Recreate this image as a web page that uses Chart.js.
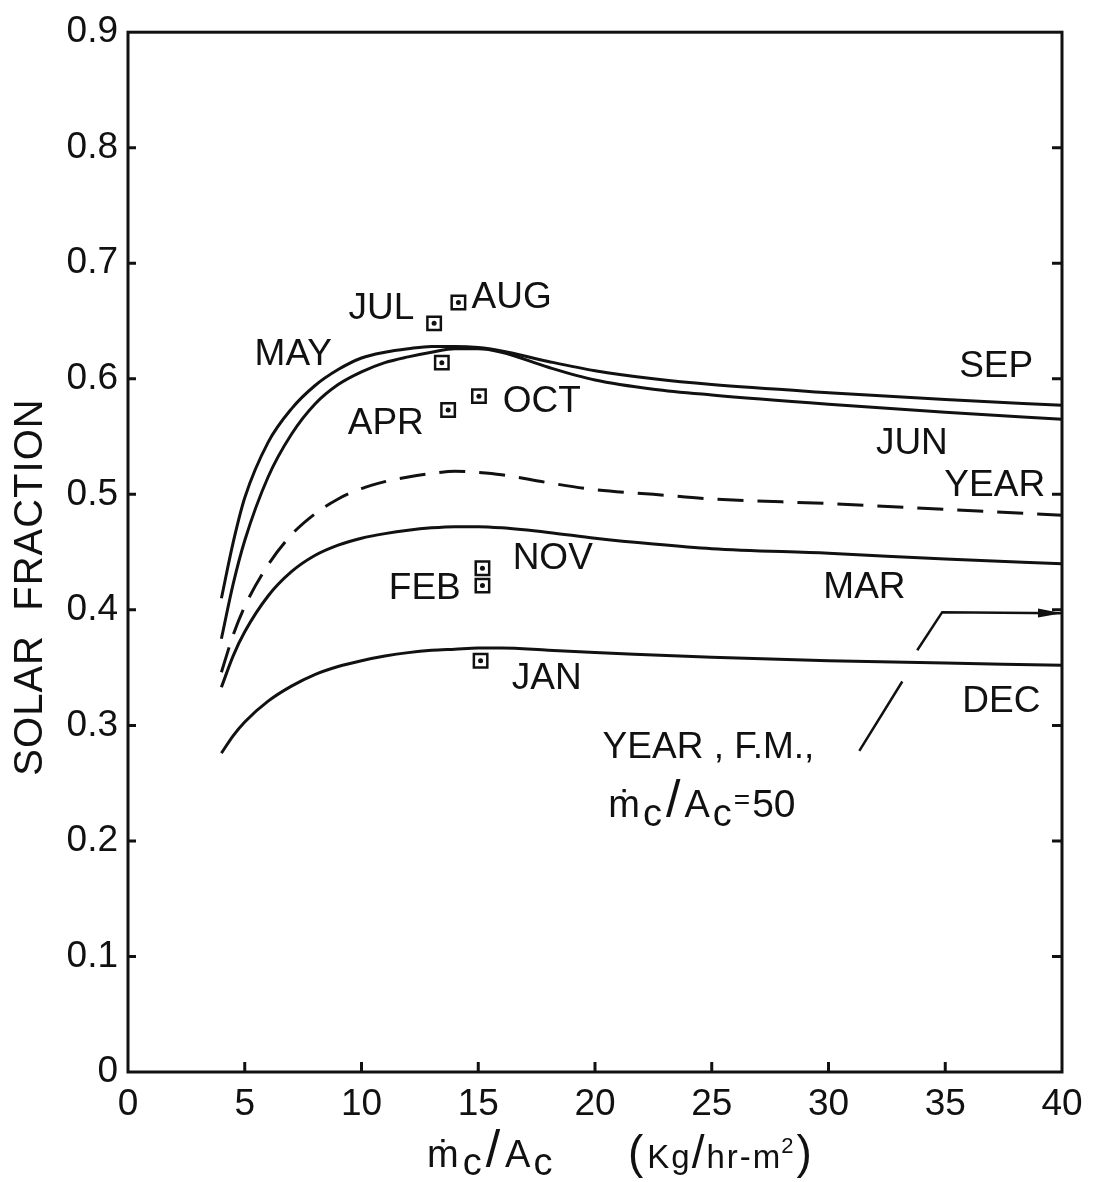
<!DOCTYPE html>
<html>
<head>
<meta charset="utf-8">
<script src="https://cdn.jsdelivr.net/npm/chart.js@4.4.1/dist/chart.umd.min.js"></script>
<style>
  html, body { margin: 0; padding: 0; background: #fff; }
  #wrap { width: 1097px; height: 1182px; }
</style>
</head>
<body>
<div id="wrap"><canvas id="solarChart" width="1097" height="1182"></canvas></div>
<script>
// collector flow rate per unit area (kg/hr-m2) where the curves were read
const flowRate = [4, 4.5, 5, 6, 7, 8, 9, 10, 11, 12, 13, 14, 15, 16, 18, 20, 22.5, 25, 30, 35, 40];

// solar fraction curves
const upperCurve = [0.410, 0.458, 0.497, 0.545, 0.574, 0.594, 0.608, 0.618, 0.623, 0.626, 0.628, 0.628, 0.627, 0.624, 0.615, 0.607, 0.600, 0.595, 0.588, 0.582, 0.577];
const lowerCurve = [0.375, 0.422, 0.460, 0.515, 0.552, 0.578, 0.595, 0.606, 0.614, 0.619, 0.623, 0.626, 0.626, 0.623, 0.610, 0.599, 0.591, 0.586, 0.578, 0.571, 0.565];
const yearCurve  = [0.346, 0.378, 0.403, 0.439, 0.465, 0.483, 0.496, 0.505, 0.511, 0.515, 0.518, 0.520, 0.519, 0.517, 0.510, 0.504, 0.500, 0.496, 0.492, 0.487, 0.482];
const marCurve   = [0.333, 0.360, 0.381, 0.412, 0.433, 0.447, 0.456, 0.462, 0.466, 0.469, 0.471, 0.472, 0.472, 0.471, 0.467, 0.462, 0.457, 0.453, 0.449, 0.444, 0.440];
const janCurve   = [0.276, 0.291, 0.303, 0.321, 0.334, 0.344, 0.351, 0.356, 0.360, 0.363, 0.365, 0.366, 0.367, 0.367, 0.365, 0.363, 0.361, 0.359, 0.356, 0.354, 0.352];

// measured months (open squares)
const markerX = [13.11, 14.15, 13.44, 13.71, 15.03, 15.18, 15.18, 15.10];
const markerY = [0.648, 0.666, 0.614, 0.573, 0.585, 0.436, 0.421, 0.356];

// leader line to YEAR, F.M. value at the right axis (null = break)
const leaderX = [31.32, 33.16, 33.48, 33.80, 34.87, 40];
const leaderY = [0.278, 0.338, null, 0.365, 0.398, 0.397];

// ticks
const xTicks = [0, 5, 10, 15, 20, 25, 30, 35, 40];
const yTicks = [0, 0.1, 0.2, 0.3, 0.4, 0.5, 0.6, 0.7, 0.8, 0.9];

// in-plot text (data coordinates)
const plotLabels = [
  { text: 'JUL', x: 10.85, y: 0.661 },
  { text: 'AUG', x: 16.43, y: 0.670 },
  { text: 'MAY', x: 7.08, y: 0.621 },
  { text: 'SEP', x: 37.18, y: 0.610 },
  { text: 'APR', x: 11.04, y: 0.561 },
  { text: 'OCT', x: 17.72, y: 0.580 },
  { text: 'JUN', x: 33.57, y: 0.544 },
  { text: 'YEAR', x: 37.12, y: 0.507 },
  { text: 'NOV', x: 18.19, y: 0.444 },
  { text: 'FEB', x: 12.71, y: 0.418 },
  { text: 'MAR', x: 31.54, y: 0.419 },
  { text: 'JAN', x: 17.93, y: 0.340 },
  { text: 'DEC', x: 37.40, y: 0.320 },
  { text: 'YEAR , F.M.,', x: 24.86, y: 0.281 }
];

const ink = '#111';
const FONT = '"Liberation Sans", "DejaVu Sans", sans-serif';

function curve(label, ys, dash) {
  return {
    label: label,
    data: flowRate.map((x, i) => ({ x: x, y: ys[i] })),
    borderColor: ink,
    borderWidth: 3,
    borderDash: dash || [],
    pointRadius: 0,
    fill: false,
    cubicInterpolationMode: 'monotone'
  };
}

// draws a run of text pieces (for the subscripts)
function drawRich(ctx, parts, x, baseline, align) {
  let total = 0;
  parts.forEach(p => {
    ctx.font = p.size + 'px ' + FONT;
    p.w = ctx.measureText(p.t).width + (p.gap || 0);
    total += p.w;
  });
  let cx = align === 'center' ? x - total / 2 : x;
  ctx.textAlign = 'left';
  ctx.textBaseline = 'alphabetic';
  parts.forEach(p => {
    ctx.font = p.size + 'px ' + FONT;
    ctx.fillText(p.t, cx, baseline + (p.dy || 0));
    cx += p.w;
  });
}

const framePlugin = {
  id: 'frame',
  beforeDraw(chart) {
    const ctx = chart.ctx;
    ctx.save();
    ctx.fillStyle = '#fff';
    ctx.fillRect(0, 0, chart.width, chart.height);
    ctx.restore();
  },
  afterDatasetsDraw(chart) {
    const ctx = chart.ctx;
    const a = chart.chartArea;
    const xs = chart.scales.x, ys = chart.scales.y;
    ctx.save();
    ctx.strokeStyle = ink;
    ctx.lineWidth = 3;
    ctx.strokeRect(a.left, a.top, a.right - a.left, a.bottom - a.top);

    // inward tick marks
    ctx.beginPath();
    yTicks.slice(1, -1).forEach(v => {
      const py = ys.getPixelForValue(v);
      ctx.moveTo(a.left, py); ctx.lineTo(a.left + 8, py);
      ctx.moveTo(a.right, py); ctx.lineTo(a.right - 10, py);
    });
    xTicks.slice(1, -1).forEach(v => {
      const px = xs.getPixelForValue(v);
      ctx.moveTo(px, a.bottom); ctx.lineTo(px, a.bottom - 10);
    });
    ctx.stroke();

    // arrow head at end of leader line
    const meta = chart.getDatasetMeta(chart.data.datasets.findIndex(d => d.label === 'leader'));
    const pts = meta.data;
    const end = pts[pts.length - 1], prev = pts[pts.length - 2];
    const ang = Math.atan2(end.y - prev.y, end.x - prev.x);
    ctx.fillStyle = ink;
    ctx.translate(end.x, end.y);
    ctx.rotate(ang);
    ctx.beginPath();
    ctx.moveTo(0, 0);
    ctx.lineTo(-24, -4.5);
    ctx.lineTo(-24, 4.5);
    ctx.closePath();
    ctx.fill();
    ctx.restore();

    // labels
    ctx.save();
    ctx.fillStyle = ink;
    ctx.font = '37px ' + FONT;
    ctx.textAlign = 'center';
    ctx.textBaseline = 'middle';
    plotLabels.forEach(l => {
      ctx.fillText(l.text, xs.getPixelForValue(l.x), ys.getPixelForValue(l.y));
    });
    // m_c/A_c = 50
    drawRich(ctx, [
      { t: '\u1E41', size: 38, gap: 3 },
      { t: 'c', size: 38, dy: 9, gap: 4 },
      { t: '/', size: 52, gap: 4 },
      { t: 'A', size: 38, gap: 3 },
      { t: 'c', size: 38, dy: 9, gap: 2 },
      { t: '=', size: 28, dy: -8, gap: 2 },
      { t: '50', size: 39 }
    ], xs.getPixelForValue(24.58), ys.getPixelForValue(0.221), 'center');
    ctx.restore();
  },
  afterDraw(chart) {
    const ctx = chart.ctx;
    ctx.save();
    ctx.fillStyle = ink;
    // x axis title
    drawRich(ctx, [
      { t: '\u1E41', size: 38, gap: 4 },
      { t: 'c', size: 38, dy: 8, gap: 4 },
      { t: '/', size: 52, gap: 5 },
      { t: 'A', size: 38, gap: 3 },
      { t: 'c', size: 38, dy: 8 }
    ], 427, 1167, 'left');
    drawRich(ctx, [
      { t: '(', size: 46, gap: 4 },
      { t: 'K', size: 33, gap: 2 },
      { t: 'g', size: 33, gap: 2 },
      { t: '/', size: 46, gap: 2 },
      { t: 'h', size: 33, gap: 2 },
      { t: 'r', size: 33, gap: 2 },
      { t: '-', size: 33, gap: 2 },
      { t: 'm', size: 33, gap: 1 },
      { t: '2', size: 22, dy: -15, gap: 3 },
      { t: ')', size: 46 }
    ], 628, 1168, 'left');

    // y axis title
    ctx.translate(31, 587);
    ctx.rotate(-Math.PI / 2);
    ctx.font = '40px ' + FONT;
    ctx.letterSpacing = '1px';
    ctx.textAlign = 'center';
    ctx.textBaseline = 'middle';
    ctx.fillText('SOLAR  FRACTION', 0, 0);
    ctx.restore();
  }
};

new Chart(document.getElementById('solarChart'), {
  type: 'line',
  data: {
    datasets: [
      curve('upper', upperCurve),
      curve('lower', lowerCurve),
      curve('year', yearCurve, [26, 14]),
      curve('mar', marCurve),
      curve('jan', janCurve),
      {
        label: 'leader',
        data: leaderX.map((x, i) => ({ x: x, y: leaderY[i] })),
        borderColor: ink,
        borderWidth: 2.5,
        pointRadius: 0,
        spanGaps: false,
        tension: 0
      },
      {
        label: 'months',
        order: 1,
        data: markerX.map((x, i) => ({ x: x, y: markerY[i] })),
        showLine: false,
        pointStyle: 'rect',
        pointRadius: 9.5,
        pointBorderWidth: 2.5,
        pointBorderColor: ink,
        pointBackgroundColor: '#fff'
      },
      {
        label: 'monthDots',
        order: -1,
        data: markerX.map((x, i) => ({ x: x, y: markerY[i] })),
        showLine: false,
        pointStyle: 'circle',
        pointRadius: 2.5,
        pointBorderWidth: 0,
        pointBackgroundColor: ink
      }
    ]
  },
  options: {
    responsive: false,
    animation: false,
    layout: { padding: { top: 27, right: 35, left: 0, bottom: 0 } },
    plugins: { legend: { display: false }, tooltip: { enabled: false } },
    scales: {
      x: {
        type: 'linear',
        min: 0,
        max: 40,
        afterBuildTicks: s => { s.ticks = xTicks.map(v => ({ value: v })); },
        ticks: { color: ink, font: { family: FONT, size: 37 }, padding: 11, autoSkip: false, maxRotation: 0 },
        grid: { display: false, drawTicks: false },
        border: { display: false },
        afterFit: s => { s.height = 110; }
      },
      y: {
        min: 0,
        max: 0.9,
        afterBuildTicks: s => { s.ticks = yTicks.map(v => ({ value: v })); },
        ticks: {
          color: ink,
          font: { family: FONT, size: 37 },
          padding: 10,
          autoSkip: false,
          callback: v => v === 0 ? '0' : v.toFixed(1)
        },
        grid: { display: false, drawTicks: false },
        border: { display: false },
        afterFit: s => { s.width = 128; }
      }
    }
  },
  plugins: [framePlugin]
});
</script>
</body>
</html>
